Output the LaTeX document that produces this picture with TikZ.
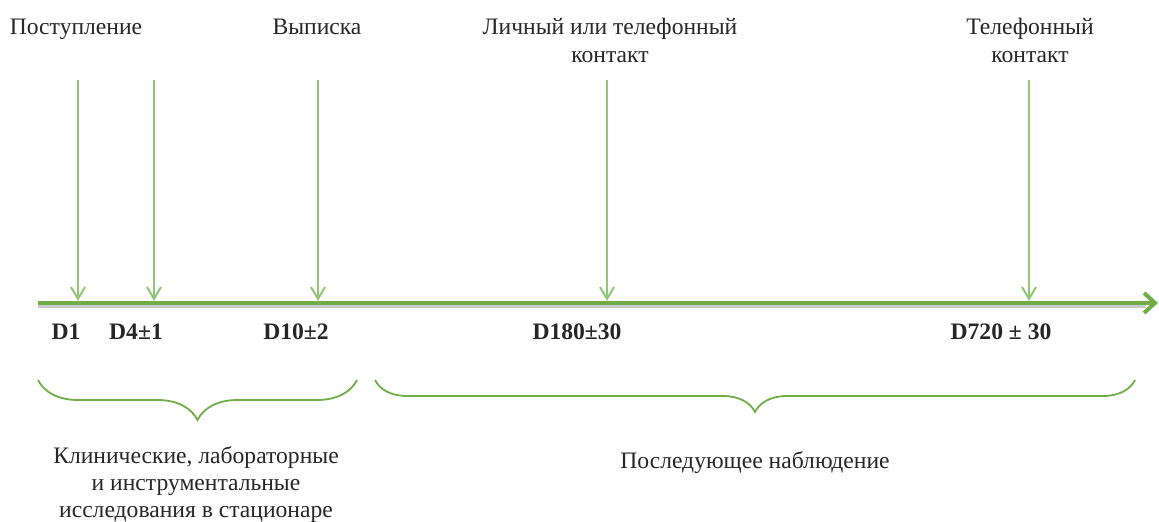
\documentclass[tikz,border=0pt]{standalone}
\usepackage{fontspec}
\setmainfont{Liberation Serif}
\usepackage{xcolor}
\usepackage{tikz}
\usetikzlibrary{arrows.meta,decorations.pathreplacing}

\definecolor{axisgreen}{RGB}{112,173,71}
\definecolor{pointgreen}{RGB}{146,198,116}
\definecolor{textgray}{RGB}{38,38,38}

\begin{document}
\begin{tikzpicture}[x=0.5pt,y=-0.5pt,
    txt/.style={font=\fontsize{11.8}{14}\selectfont, text=textgray, align=center, inner sep=0pt, anchor=base},
    day/.style={txt, font=\fontsize{11.8}{14}\selectfont\bfseries},
    pointer/.style={pointgreen, line width=1pt, -{Straight Barb[length=6pt,width=7pt]}},
    brc/.style={axisgreen, line width=0.9pt, decorate, decoration={brace, mirror, amplitude=#1}}]
    \useasboundingbox (0,0) rectangle (1159,522);

    % events
    \node[txt] (adm)   at (76,35)   {Поступление};
    \node[txt] (dis)   at (317,35)  {Выписка};
    \node[txt] (visit) at (610,63)  {Личный или телефонный\\контакт};
    \node[txt] (call)  at (1030,63) {Телефонный\\контакт};

    % time axis
    \coordinate (start) at (38,303);
    \coordinate (end) at (1158,303);
    \draw[black!20, line width=2pt] ([yshift=-1.5pt]start) -- ([xshift=-6pt,yshift=-1.5pt]end);
    \draw[axisgreen, line width=2pt, -{Straight Barb[length=5.5pt,width=10pt]}] (start) -- (end);

    \foreach \x/\n in {78/d1,154/d4,318/d10,607/d180,1029/d720} {
      \coordinate (\n top) at (\x,80);
      \coordinate (\n) at (\x,301);
      \draw[pointer] (\n top) -- (\n);
    }

    % days
    \node[day] (l1)   at (66,340)   {D1};
    \node[day] (l4)   at (136,340)  {D4±1};
    \node[day] (l10)  at (296,340)  {D10±2};
    \node[day] (l180) at (577,340)  {D180±30};
    \node[day] (l720) at (1001,340) {D720 ± 30};

    % periods
    \coordinate (h1) at (38,380);
    \coordinate (h2) at (357,380);
    \draw[brc=20pt] (h1) -- (h2);
    \coordinate (f1) at (375,380);
    \coordinate (f2) at (1135,380);
    \draw[brc=16pt] (f1) -- (f2);

    \node[txt, font=\fontsize{11.8}{13.5}\selectfont] (hosp) at (196,517) {Клинические, лабораторные\\и инструментальные\\исследования в стационаре};
    \node[txt] (follow) at (755,468) {Последующее наблюдение};
\end{tikzpicture}
\end{document}
